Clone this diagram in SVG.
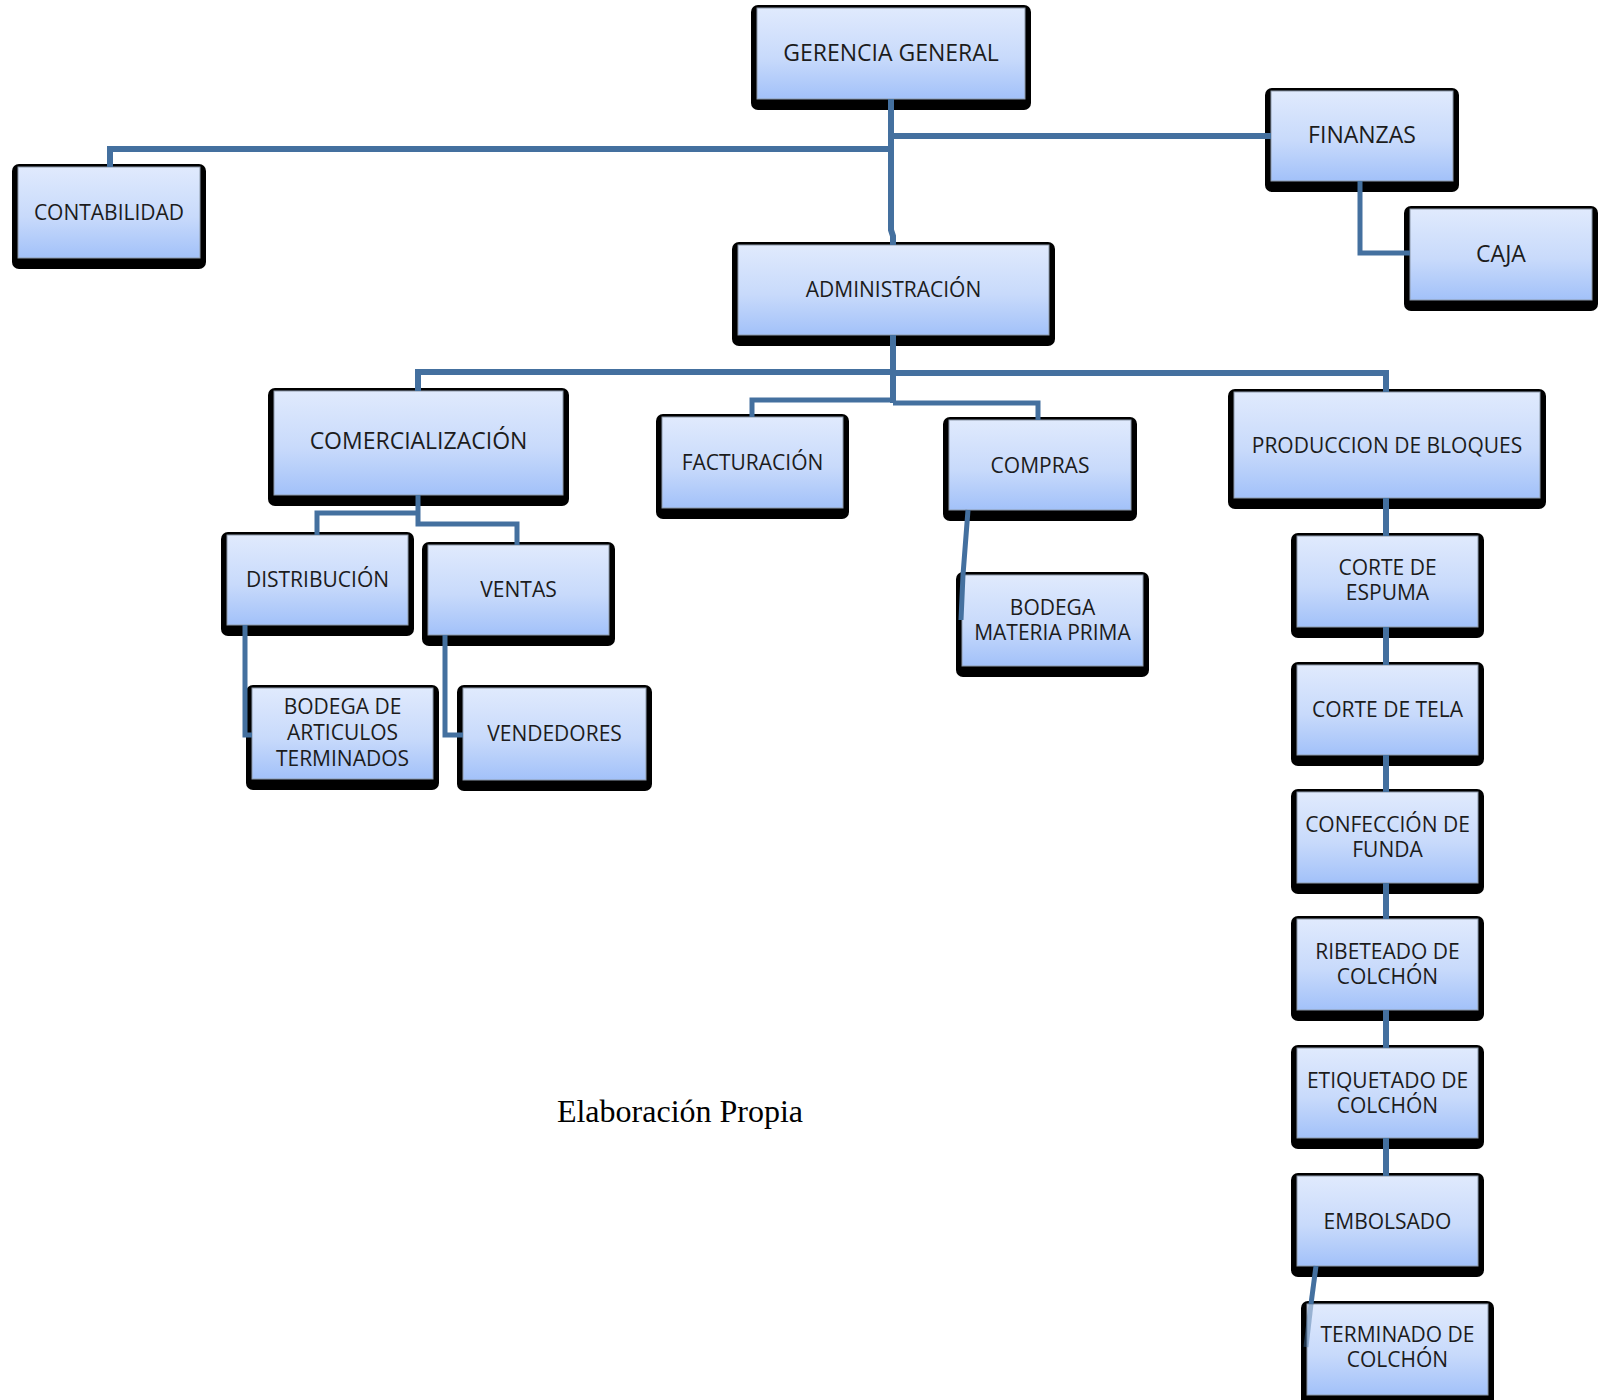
<svg xmlns="http://www.w3.org/2000/svg" width="1600" height="1400" viewBox="0 0 1600 1400">
<defs>
<linearGradient id="g" x1="0" y1="0" x2="0" y2="1">
<stop offset="0" stop-color="#e0eafd"/>
<stop offset="0.55" stop-color="#c8dafb"/>
<stop offset="1" stop-color="#a2c1f9"/>
</linearGradient>
<style>
.sh{fill:#000}
.box{fill:url(#g);stroke:#8d9aab;stroke-width:1}
.t{font-family:"Open Sans","DejaVu Sans",sans-serif;font-size:21px;fill:#1c1c1c;text-anchor:middle}
.big{font-size:23px}
.conn{fill:none;stroke:#44709f;stroke-width:6;stroke-linejoin:miter}
.thin{stroke-width:5}
.cap{font-family:"Liberation Serif","Times New Roman",serif;font-size:32px;fill:#000;text-anchor:middle}
</style>
</defs>
<rect width="1600" height="1400" fill="#fff"/>

<g id="nodes">
<g id="gerencia-general"><rect class="sh" x="751" y="5" width="280" height="105" rx="7"/><rect class="box" x="757" y="8" width="268" height="91"/><text class="t big" x="891" y="61">GERENCIA GENERAL</text></g>
<g id="finanzas"><rect class="sh" x="1265" y="88" width="194" height="104" rx="7"/><rect class="box" x="1271" y="91" width="182" height="90"/><text class="t big" x="1362" y="143">FINANZAS</text></g>
<g id="caja"><rect class="sh" x="1404" y="206" width="194" height="105" rx="7"/><rect class="box" x="1410" y="209" width="182" height="91"/><text class="t big" x="1501" y="262">CAJA</text></g>
<g id="contabilidad"><rect class="sh" x="12" y="164" width="194" height="105" rx="7"/><rect class="box" x="18" y="167" width="182" height="91"/><text class="t" x="109" y="220">CONTABILIDAD</text></g>
<g id="administracion"><rect class="sh" x="732" y="242" width="323" height="104" rx="7"/><rect class="box" x="738" y="245" width="311" height="90"/><text class="t" x="893.5" y="297">ADMINISTRACIÓN</text></g>
<g id="comercializacion"><rect class="sh" x="268" y="388" width="301" height="118" rx="7"/><rect class="box" x="274" y="391" width="289" height="104"/><text class="t big" x="418.5" y="449">COMERCIALIZACIÓN</text></g>
<g id="facturacion"><rect class="sh" x="656" y="414" width="193" height="105" rx="7"/><rect class="box" x="662" y="417" width="181" height="91"/><text class="t" x="752.5" y="470">FACTURACIÓN</text></g>
<g id="compras"><rect class="sh" x="943" y="417" width="194" height="104" rx="7"/><rect class="box" x="949" y="420" width="182" height="90"/><text class="t" x="1040" y="472.5">COMPRAS</text></g>
<g id="produccion-de-bloques"><rect class="sh" x="1228" y="389" width="318" height="120" rx="7"/><rect class="box" x="1234" y="392" width="306" height="106"/><text class="t" x="1387" y="453">PRODUCCION DE BLOQUES</text></g>
<g id="distribucion"><rect class="sh" x="221" y="532" width="193" height="104" rx="7"/><rect class="box" x="227" y="535" width="181" height="90"/><text class="t" x="317.5" y="587">DISTRIBUCIÓN</text></g>
<g id="ventas"><rect class="sh" x="422" y="542" width="193" height="104" rx="7"/><rect class="box" x="428" y="545" width="181" height="90"/><text class="t" x="518.5" y="597">VENTAS</text></g>
<g id="bodega-articulos"><rect class="sh" x="246" y="685" width="193" height="105" rx="7"/><rect class="box" x="252" y="688" width="181" height="91"/><text class="t" x="342.5" y="714">BODEGA DE</text><text class="t" x="342.5" y="740">ARTICULOS</text><text class="t" x="342.5" y="766">TERMINADOS</text></g>
<g id="vendedores"><rect class="sh" x="457" y="685" width="195" height="106" rx="7"/><rect class="box" x="463" y="688" width="183" height="92"/><text class="t" x="554.5" y="741">VENDEDORES</text></g>
<g id="bodega-materia-prima"><rect class="sh" x="956" y="572" width="193" height="105" rx="7"/><rect class="box" x="962" y="575" width="181" height="91"/><text class="t" x="1052.5" y="615">BODEGA</text><text class="t" x="1052.5" y="640">MATERIA PRIMA</text></g>
<g id="corte-espuma"><rect class="sh" x="1291" y="533" width="193" height="105" rx="7"/><rect class="box" x="1297" y="536" width="181" height="91"/><text class="t" x="1387.5" y="575">CORTE DE</text><text class="t" x="1387.5" y="600">ESPUMA</text></g>
<g id="corte-tela"><rect class="sh" x="1291" y="662" width="193" height="104" rx="7"/><rect class="box" x="1297" y="665" width="181" height="90"/><text class="t" x="1387.5" y="717">CORTE DE TELA</text></g>
<g id="confeccion-funda"><rect class="sh" x="1291" y="789" width="193" height="105" rx="7"/><rect class="box" x="1297" y="792" width="181" height="91"/><text class="t" x="1387.5" y="832">CONFECCIÓN DE</text><text class="t" x="1387.5" y="857">FUNDA</text></g>
<g id="ribeteado"><rect class="sh" x="1291" y="916" width="193" height="105" rx="7"/><rect class="box" x="1297" y="919" width="181" height="91"/><text class="t" x="1387.5" y="959">RIBETEADO DE</text><text class="t" x="1387.5" y="984">COLCHÓN</text></g>
<g id="etiquetado"><rect class="sh" x="1291" y="1045" width="193" height="104" rx="7"/><rect class="box" x="1297" y="1048" width="181" height="90"/><text class="t" x="1387.5" y="1088">ETIQUETADO DE</text><text class="t" x="1387.5" y="1113">COLCHÓN</text></g>
<g id="embolsado"><rect class="sh" x="1291" y="1173" width="193" height="104" rx="7"/><rect class="box" x="1297" y="1176" width="181" height="90"/><text class="t" x="1387.5" y="1228.5">EMBOLSADO</text></g>
<g id="terminado"><rect class="sh" x="1301" y="1301" width="193" height="105" rx="7"/><rect class="box" x="1307" y="1304" width="181" height="91"/><text class="t" x="1397.5" y="1342">TERMINADO DE</text><text class="t" x="1397.5" y="1367">COLCHÓN</text></g>
</g>

<g id="connectors">
<path class="conn" d="M891 99 V230 L893 236 V245"/>
<path class="conn" d="M891 149 H110 V167"/>
<path class="conn" d="M891 136 H1271"/>
<path class="conn thin" d="M1360 181 V253 H1410"/>
<path class="conn" d="M893 335 V403"/>
<path class="conn" d="M893 372 H418 V391"/>
<path class="conn" d="M893 373 H1386 V392"/>
<path class="conn thin" d="M893 400 H752 V417"/>
<path class="conn thin" d="M893 403 H1038 V420"/>
<path class="conn thin" d="M968 510 L963 575 L961 620"/>
<path class="conn thin" d="M418 495 V524 H517 V545"/>
<path class="conn thin" d="M418 513 H317 V535"/>
<path class="conn thin" d="M245 625 V735 H252"/>
<path class="conn thin" d="M445 635 V735 H463"/>
<path class="conn" d="M1386 498 V536 M1386 627 V665 M1386 755 V792 M1386 883 V919 M1386 1010 V1048 M1386 1138 V1176"/>
<path class="conn thin" d="M1316 1266 L1311 1304"/>
<path class="conn thin" d="M1311 1304 L1306 1347" opacity="0.45"/>
</g>

<text class="cap" x="680" y="1122">Elaboración Propia</text>
</svg>
